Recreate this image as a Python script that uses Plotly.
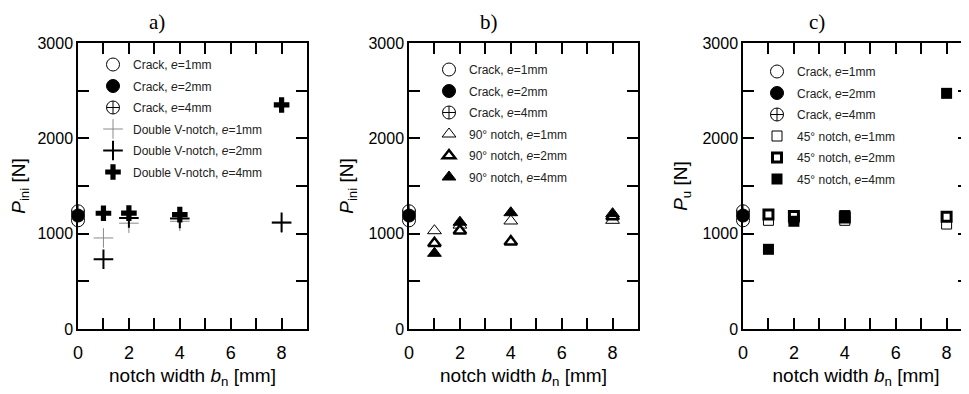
import plotly.graph_objects as go

# The page body has an 8px default margin; figure is sized to fill the rest of the window.
OFF = 8
W, H = 969 - OFF, 394 - OFF

# ---------------- data ----------------
crack_x = [0]
crack_e1 = [1140]
crack_e2 = [1190]
crack_e4 = [1235]

a_x = [1, 2, 4, 8]
dv_e1 = [955, 1110, 1130, 1110]
dv_e2 = [731, 1165, 1160, 1118]
dv_e4 = [1214, 1215, 1200, 2350]

b_x = [1, 2, 4, 8]
n90_e1 = [1031, 1090, 1133, 1140]
n90_e2 = [899, 1030, 916, 1180]
n90_e4 = [794, 1120, 1220, 1210]

c_x = [1, 2, 4, 8]
n45_e1 = [1140, 1160, 1140, 1101]
n45_e2 = [1200, 1185, 1170, 1178]
n45_e4 = [836, 1130, 1190, 2472]

x_ticks = [0, 2, 4, 6, 8]
y_ticks = [0, 1000, 2000, 3000]
panel_titles = ["a)", "b)", "c)"]
y_titles = ["<i>P</i><sub>ini</sub> [N]", "<i>P</i><sub>ini</sub> [N]", "<i>P</i><sub>u</sub> [N]"]
x_title = "notch width <i>b</i><sub>n</sub> [mm]"

# ---------------- layout geometry (window pixels) ----------------
px_left = [78, 409, 743]
px_right = [307, 638, 969]
top_px, bot_px = 43, 329
unit = 25.45


def fx(px):
    return (px - OFF) / W


def fy(px):
    return 1 - (px - OFF) / H


fig = go.Figure()

FONT = "Liberation Sans, Arial, sans-serif"
TXT = "#222"


def add_crack(xa, ya, leg):
    common = dict(x=crack_x, xaxis=xa, yaxis=ya, mode="markers", legend=leg, cliponaxis=False)
    fig.add_trace(go.Scatter(y=crack_e4, name="Crack, <i>e</i>=4mm", legendrank=3, legendgroup=leg + "c4",
                             marker=dict(symbol="circle-cross", size=13, color="white",
                                         line=dict(color="black", width=1)), **common))
    fig.add_trace(go.Scatter(y=crack_e1, name="Crack, <i>e</i>=1mm", legendrank=1, legendgroup=leg + "c1",
                             marker=dict(symbol="circle", size=13, color="white",
                                         line=dict(color="black", width=1)), **common))
    fig.add_trace(go.Scatter(y=crack_e2, name="Crack, <i>e</i>=2mm", legendrank=2, legendgroup=leg + "c2",
                             marker=dict(symbol="circle", size=13, color="black",
                                         line=dict(color="black", width=1)), **common))


# panel a
add_crack("x", "y", "legend")
fig.add_trace(go.Scatter(x=a_x, y=dv_e1, xaxis="x", yaxis="y", mode="markers", legend="legend",
                         name="Double V-notch, <i>e</i>=1mm", legendrank=4, legendgroup="a1", cliponaxis=False,
                         marker=dict(symbol="cross-thin", size=14, color="#8a8a8a",
                                     line=dict(color="#8a8a8a", width=1))))
fig.add_trace(go.Scatter(x=a_x, y=dv_e2, xaxis="x", yaxis="y", mode="markers", legend="legend",
                         name="Double V-notch, <i>e</i>=2mm", legendrank=5, legendgroup="a2", cliponaxis=False,
                         marker=dict(symbol="cross-thin", size=14, color="black",
                                     line=dict(color="black", width=2))))
fig.add_trace(go.Scatter(x=a_x, y=dv_e4, xaxis="x", yaxis="y", mode="markers", legend="legend",
                         name="Double V-notch, <i>e</i>=4mm", legendrank=6, legendgroup="a4", cliponaxis=False,
                         marker=dict(symbol="cross", size=13, color="black",
                                     line=dict(color="black", width=0))))

# panel b
add_crack("x2", "y2", "legend2")
fig.add_trace(go.Scatter(x=b_x, y=n90_e1, xaxis="x2", yaxis="y2", mode="markers", legend="legend2",
                         name="90° notch, <i>e</i>=1mm", legendrank=4, legendgroup="b1", cliponaxis=False,
                         marker=dict(symbol="triangle-up", size=12, color="white",
                                     line=dict(color="black", width=1))))
fig.add_trace(go.Scatter(x=b_x, y=n90_e2, xaxis="x2", yaxis="y2", mode="markers", legend="legend2",
                         name="90° notch, <i>e</i>=2mm", legendrank=5, legendgroup="b2", cliponaxis=False,
                         marker=dict(symbol="triangle-up", size=11, color="white",
                                     line=dict(color="black", width=2.5))))
fig.add_trace(go.Scatter(x=b_x, y=n90_e4, xaxis="x2", yaxis="y2", mode="markers", legend="legend2",
                         name="90° notch, <i>e</i>=4mm", legendrank=6, legendgroup="b4", cliponaxis=False,
                         marker=dict(symbol="triangle-up", size=12, color="black",
                                     line=dict(color="black", width=1))))

# panel c
add_crack("x3", "y3", "legend3")
fig.add_trace(go.Scatter(x=c_x, y=n45_e1, xaxis="x3", yaxis="y3", mode="markers", legend="legend3",
                         name="45° notch, <i>e</i>=1mm", legendrank=4, legendgroup="c1x", cliponaxis=False,
                         marker=dict(symbol="square", size=10, color="white",
                                     line=dict(color="black", width=1))))
fig.add_trace(go.Scatter(x=c_x, y=n45_e2, xaxis="x3", yaxis="y3", mode="markers", legend="legend3",
                         name="45° notch, <i>e</i>=2mm", legendrank=5, legendgroup="c2x", cliponaxis=False,
                         marker=dict(symbol="square", size=9, color="white",
                                     line=dict(color="black", width=3))))
fig.add_trace(go.Scatter(x=c_x, y=n45_e4, xaxis="x3", yaxis="y3", mode="markers", legend="legend3",
                         name="45° notch, <i>e</i>=4mm", legendrank=6, legendgroup="c4x", cliponaxis=False,
                         marker=dict(symbol="square", size=11, color="black",
                                     line=dict(color="black", width=0))))

ydom = [fy(bot_px), fy(top_px)]

layout = dict(
    width=W, height=H,
    margin=dict(l=0, r=0, t=0, b=0, autoexpand=False),
    paper_bgcolor="white", plot_bgcolor="white",
    font=dict(family=FONT, color="black"),
    showlegend=True,
)

for i in range(3):
    sfx = "" if i == 0 else str(i + 1)
    xr = (px_right[i] - px_left[i]) / unit
    layout["xaxis" + sfx] = dict(
        domain=[fx(px_left[i]), min(1.0, fx(px_right[i]))], range=[0, xr], anchor="y" + sfx,
        tickvals=x_ticks, ticks="inside", ticklen=11, tickwidth=1.5, tickcolor="black",
        minor=dict(dtick=1, tick0=0, ticks="inside", ticklen=11, tickwidth=1.5, tickcolor="black"),
        showline=True, linecolor="black", linewidth=1.5, mirror="ticks",
        showgrid=False, zeroline=False, automargin=False, ticklabelstandoff=7,
        tickfont=dict(size=18, family=FONT, color="black"),
        title=dict(text=x_title, font=dict(size=19, family=FONT, color="black"), standoff=6),
    )
    layout["yaxis" + sfx] = dict(
        domain=ydom, range=[0, 3000], anchor="x" + sfx,
        tickvals=y_ticks, ticks="inside", ticklen=11, tickwidth=1.5, tickcolor="black",
        minor=dict(dtick=500, tick0=0, ticks="inside", ticklen=11, tickwidth=1.5, tickcolor="black"),
        showline=True, linecolor="black", linewidth=1.5, mirror="ticks",
        showgrid=False, zeroline=False, automargin=False,
        tickfont=dict(size=16, family=FONT, color="black"),
        title=dict(text=y_titles[i], font=dict(size=19, family=FONT, color="black"), standoff=10),
    )

leg_sym_x = [112, 448, 776]
leg_top_y = [60, 65, 67]
for i in range(3):
    key = "legend" if i == 0 else "legend" + str(i + 1)
    layout[key] = dict(
        x=fx(leg_sym_x[i] - 19), xanchor="left",
        y=fy(leg_top_y[i] - 10), yanchor="top",
        bgcolor="rgba(0,0,0,0)", borderwidth=0,
        font=dict(size=12, family=FONT, color=TXT),
        tracegroupgap=2.5, itemclick=False, itemdoubleclick=False,
    )

annotations = []
title_x = [157, 489, 817]
for i in range(3):
    annotations.append(dict(text=panel_titles[i], x=fx(title_x[i]), y=1.0,
                            xref="paper", yref="paper", showarrow=False,
                            xanchor="center", yanchor="top",
                            font=dict(family="Liberation Serif, Times New Roman, serif", size=21, color="black")))
layout["annotations"] = annotations

fig.update_layout(**layout)
fig.write_html("out.html")
